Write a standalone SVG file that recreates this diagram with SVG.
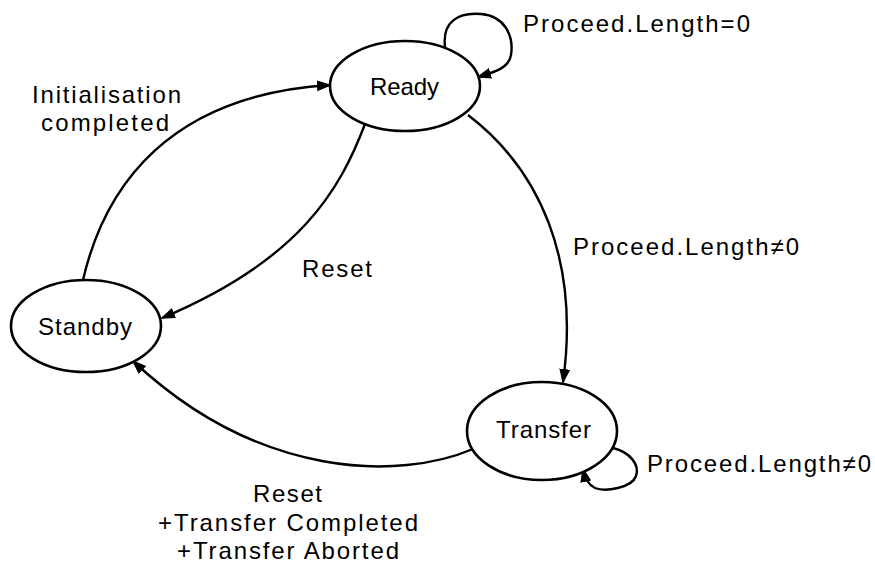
<svg xmlns="http://www.w3.org/2000/svg" width="875" height="564" viewBox="0 0 875 564">
  <style>
    .state { fill: #ffffff; stroke: #000000; stroke-width: 2.6; }
    .edge { fill: none; stroke: #000000; stroke-width: 2.4; marker-end: url(#arrow); }
    text { font-family: "Liberation Sans", Arial, sans-serif; font-size: 24px; fill: #000000; }
  </style>
  <defs>
    <marker id="arrow" markerWidth="16" markerHeight="12" refX="13" refY="5.5" orient="auto" markerUnits="userSpaceOnUse">
      <path d="M0,0 L15,5.5 L0,11 z" fill="#000000"/>
    </marker>
  </defs>

  <!-- transitions -->
  <g id="connectors">
    <!-- Ready self-loop -->
    <path class="edge" d="M445,47 C442,22 458,12 481,14 C505,16 514,36 511,55 C509,68 495,72 478,77"/>
    <!-- Standby to Ready -->
    <path class="edge" d="M83,280 C105,185 170,95 330,85"/>
    <!-- Ready to Standby -->
    <path class="edge" d="M365,124 C340,190 300,260 162,318"/>
    <!-- Ready to Transfer -->
    <path class="edge" d="M468,115 C540,170 580,260 563,382"/>
    <!-- Transfer to Standby -->
    <path class="edge" d="M473,449 C400,480 260,480 133,361"/>
    <!-- Transfer self-loop -->
    <path class="edge" d="M613,448 C630,452 640,465 636,476 C632,488 605,492 595,488 C588,485 585,478 583,469"/>
  </g>

  <g id="ready">
    <ellipse class="state" cx="405" cy="86" rx="75" ry="45"/>
    <text x="370" y="95" textLength="69" lengthAdjust="spacing">Ready</text>
  </g>
  <g id="standby">
    <ellipse class="state" cx="86" cy="326" rx="75" ry="46"/>
    <text x="38" y="335" textLength="94" lengthAdjust="spacing">Standby</text>
  </g>
  <g id="transfer">
    <ellipse class="state" cx="542" cy="431" rx="75" ry="49"/>
    <text x="496" y="438" textLength="95" lengthAdjust="spacing">Transfer</text>
  </g>

  <!-- transition labels -->
  <g id="labels">
    <text x="523" y="32" textLength="227" lengthAdjust="spacing">Proceed.Length=0</text>
    <text x="32" y="103" textLength="149" lengthAdjust="spacing">Initialisation</text>
    <text x="41" y="131" textLength="128" lengthAdjust="spacing">completed</text>
    <text x="302" y="277" textLength="70" lengthAdjust="spacing">Reset</text>
    <text x="573" y="255" textLength="226" lengthAdjust="spacing">Proceed.Length≠0</text>
    <text x="647" y="472" textLength="224" lengthAdjust="spacing">Proceed.Length≠0</text>
    <text x="253" y="502" textLength="69" lengthAdjust="spacing">Reset</text>
    <text x="158" y="531" textLength="260" lengthAdjust="spacing">+Transfer Completed</text>
    <text x="177" y="559" textLength="222" lengthAdjust="spacing">+Transfer Aborted</text>
  </g>
</svg>
